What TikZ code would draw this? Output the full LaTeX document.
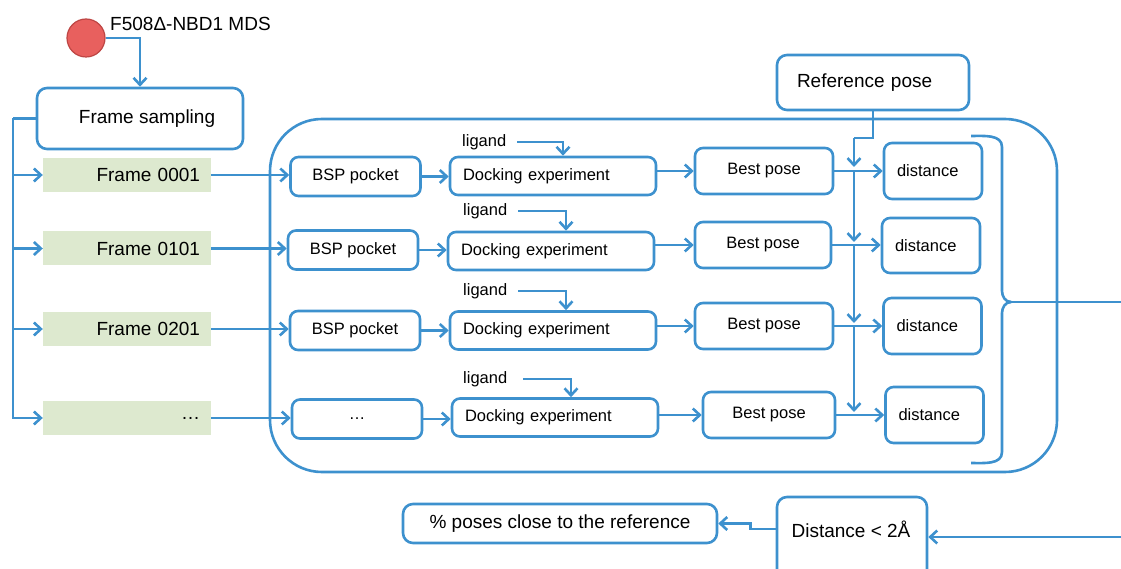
\documentclass[tikz,border=0pt]{standalone}
\usepackage{fontspec}
\setmainfont{Liberation Sans}
\usetikzlibrary{arrows.meta,calc}
\definecolor{flow}{RGB}{61,145,206}
\definecolor{framegreen}{RGB}{221,233,207}
\definecolor{startred}{RGB}{232,96,94}
\definecolor{startrim}{RGB}{190,70,68}
\newcommand\fbig{\fontsize{19}{22}\selectfont}
\newcommand\fsmall{\fontsize{16.5}{19}\selectfont}
\begin{document}
\begin{tikzpicture}[x=1pt,y=-1pt,
  line/.style={draw=flow,line width=2.6pt},
  arr/.style={line,-{Straight Barb[length=7pt,width=13pt]}},
  box/.style={draw=flow,line width=2.6pt,rounded corners=8pt,fill=white,
    inner sep=0pt,font=\fsmall},
  bigbox/.style={box,font=\fbig,rounded corners=10pt},
  dockbox/.style={box,text width=180pt,inner xsep=13pt,align=left,minimum height=38pt},
  distbox/.style={box,text width=72pt,inner xsep=13pt,align=left},
  bestbox/.style={box,minimum height=46pt},
  bspbox/.style={box,minimum width=130pt,minimum height=39pt},
  framebox/.style={fill=framegreen,inner ysep=0pt,inner xsep=11pt,text width=146pt,
    align=right,minimum height=34pt,font=\fbig},
  tag/.style={inner sep=0pt,anchor=west,font=\fsmall}]
\useasboundingbox (0,0) rectangle (1121,569);

% container of the per-frame pipelines
\node[draw=flow,line width=2.6pt,rounded corners=52pt,minimum width=787pt,
  minimum height=353pt,inner sep=0pt] (stage) at (663.5,295.5) {};

% start point and sampling
\node[circle,fill=startred,draw=startrim,line width=1.2pt,minimum size=38pt,inner sep=0pt] (md) at (86,38) {};
\node[inner sep=0pt,anchor=west,font=\fbig] (mdlabel) at (110,24) {F508Δ-NBD1 MDS};
\node[bigbox,minimum width=206pt,minimum height=61pt] (fs) at (140,118.5) {\hspace{14pt}Frame sampling};

% sampled frames
\node[framebox] (f1) at (127,175) {Frame 0001};
\node[framebox] (f2) at (127,248.5) {Frame 0101};
\node[framebox] (f3) at (127,329) {Frame 0201};
\node[framebox] (f4) at (127,418) {…};

% row 1
\node[bspbox] (bsp1) at (355.5,176.5) {BSP pocket};
\node[dockbox] (dock1) at (553,176) {Docking experiment};
\node[bestbox,minimum width=138pt] (best1) at (764,171) {Best pose};
\node[distbox,minimum height=56pt] (dist1) at (933,171) {distance};
\node[tag] (lig1) at (462,142) {ligand};
% row 2
\node[bspbox] (bsp2) at (353,250) {BSP pocket};
\node[dockbox] (dock2) at (551,251) {Docking experiment};
\node[bestbox,minimum width=136pt] (best2) at (763,245) {Best pose};
\node[distbox,minimum height=55pt] (dist2) at (931,245.5) {distance};
\node[tag] (lig2) at (463,211) {ligand};
% row 3
\node[bspbox] (bsp3) at (355,330.5) {BSP pocket};
\node[dockbox] (dock3) at (553,330.5) {Docking experiment};
\node[bestbox,minimum width=138pt] (best3) at (764,326) {Best pose};
\node[distbox,minimum height=56pt] (dist3) at (932.5,326) {distance};
\node[tag] (lig3) at (463,291) {ligand};
% row 4
\node[bspbox] (bsp4) at (357,419) {…};
\node[dockbox] (dock4) at (555,417.5) {Docking experiment};
\node[bestbox,minimum width=132pt] (best4) at (769,415) {Best pose};
\node[distbox,minimum height=56pt] (dist4) at (934.5,415) {distance};
\node[tag] (lig4) at (463,379) {ligand};

% reference and evaluation
\node[bigbox,text width=152pt,inner xsep=20pt,align=left,minimum height=55pt] (ref) at (873,82.5) {Reference pose};
\node[bigbox,minimum width=150pt,minimum height=93pt] (dst) at (852,543.5) {};
\node[inner sep=0pt,font=\fbig] (dsttxt) at (851,529) {Distance < 2Å};
\node[bigbox,minimum width=314pt,minimum height=39pt] (pc) at (560,523.5) {\% poses close to the reference};

% connectors: sampling
\draw[arr] (md.east) -| (fs.north);
\coordinate (trunk) at (13,118.5);
\draw[line] (fs.west) -- (trunk);
\draw[arr] (trunk) |- (f1.west);
\draw[arr] (trunk) |- (f2.west);
\draw[arr] (trunk) |- (f3.west);
\draw[arr] (trunk) |- (f4.west);

% connectors: pipelines
\foreach \i in {1,2,3,4}{
  \draw[arr] (f\i.east) -- (f\i.east -| bsp\i.west);
  \draw[arr] (bsp\i.east) -- (bsp\i.east -| dock\i.west);
  \draw[arr] (dock\i.east |- best\i.west) -- (best\i.west);
  \draw[arr] (best\i.east) -- (best\i.east -| dist\i.west);
}
\draw[arr] ([xshift=11pt]lig1.east) -| ([xshift=10pt]dock1.north);
\draw[arr] ([xshift=11pt]lig2.east) -| ([xshift=15pt]dock2.north);
\draw[arr] ([xshift=11pt]lig3.east) -| ([xshift=13pt]dock3.north);
\draw[arr] ([xshift=16pt]lig4.east) -| ([xshift=16pt]dock4.north);

% reference pose feed
\coordinate (bus) at (854,138);
\draw[line] (ref.south) |- (bus);
\draw[arr] (bus) -- ($(bus |- best1.east)+(0,-4)$);
\draw[arr] (bus |- best1.east) -- ($(bus |- best2.east)+(0,-3)$);
\draw[arr] (bus |- best2.east) -- ($(bus |- best3.east)+(0,-3)$);
\draw[arr] (bus |- best3.east) -- ($(bus |- best4.east)+(0,-3)$);

% brace gathering the distances
\coordinate (brtip) at (1011,302);
\draw[line] (971,136) to[out=0,in=90] (1002,147) -- (1002,291) to[out=-90,in=180] (brtip);
\draw[line] (brtip) to[out=180,in=90] (1002,313) -- (1002,452) to[out=-90,in=0] (971,463);
\coordinate (outR) at (1121,302);
\draw[line] (brtip) -- (outR);

% evaluation
\coordinate (inR) at (1121,537);
\draw[arr] (inR) -- (inR -| dst.east);
\draw[arr] (dsttxt.west -| dst.west) -- ++(-25,0) |- (pc.east);
\end{tikzpicture}
\end{document}
